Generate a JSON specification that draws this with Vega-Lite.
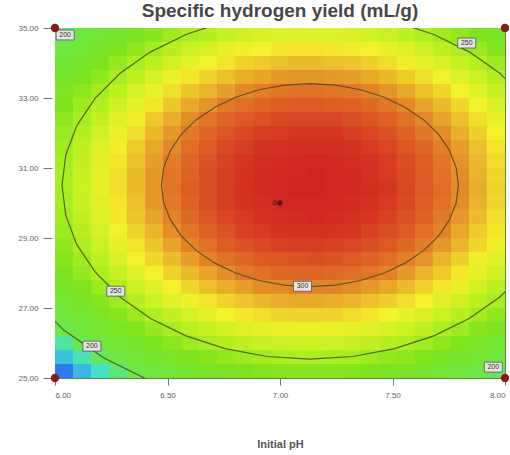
{
  "$schema": "https://vega.github.io/schema/vega-lite/v6.json",
  "width": 450,
  "height": 350,
  "autosize": {"type": "none"},
  "padding": {"left": 55, "top": 28, "right": 5, "bottom": 77},
  "background": "white",
  "title": {"text": "Specific hydrogen yield (mL/g)", "font": "Liberation Sans", "fontSize": 19, "fontWeight": "bold", "color": "#474747", "anchor": "middle", "offset": 3},
  "config": {
    "view": {"stroke": "#5c8a3c", "strokeWidth": 1},
    "axis": {"labelFont": "Liberation Sans", "labelFontSize": 8, "labelColor": "#666666", "tickColor": "#777777", "domain": false, "grid": false, "titleFont": "Liberation Sans", "titleFontSize": 11, "titleColor": "#555555", "titleFontWeight": "bold"}
  },
  "datasets": {
    "grid": [
      {"x":6.04,"y":25.2,"z":166},{"x":6.12,"y":25.2,"z":176},{"x":6.2,"y":25.2,"z":186},{"x":6.28,"y":25.2,"z":195},{"x":6.36,"y":25.2,"z":203},{"x":6.44,"y":25.2,"z":210},{"x":6.52,"y":25.2,"z":216},{"x":6.6,"y":25.2,"z":222},{"x":6.68,"y":25.2,"z":227},{"x":6.76,"y":25.2,"z":231},{"x":6.84,"y":25.2,"z":234},{"x":6.92,"y":25.2,"z":237},{"x":7,"y":25.2,"z":238},{"x":7.08,"y":25.2,"z":239},{"x":7.16,"y":25.2,"z":239},{"x":7.24,"y":25.2,"z":239},{"x":7.32,"y":25.2,"z":237},{"x":7.4,"y":25.2,"z":235},{"x":7.48,"y":25.2,"z":232},{"x":7.56,"y":25.2,"z":228},{"x":7.64,"y":25.2,"z":224},{"x":7.72,"y":25.2,"z":218},{"x":7.8,"y":25.2,"z":212},{"x":7.88,"y":25.2,"z":205},{"x":7.96,"y":25.2,"z":197},
      {"x":6.04,"y":25.6,"z":178},{"x":6.12,"y":25.6,"z":188},{"x":6.2,"y":25.6,"z":198},{"x":6.28,"y":25.6,"z":207},{"x":6.36,"y":25.6,"z":215},{"x":6.44,"y":25.6,"z":222},{"x":6.52,"y":25.6,"z":229},{"x":6.6,"y":25.6,"z":234},{"x":6.68,"y":25.6,"z":239},{"x":6.76,"y":25.6,"z":243},{"x":6.84,"y":25.6,"z":247},{"x":6.92,"y":25.6,"z":249},{"x":7,"y":25.6,"z":251},{"x":7.08,"y":25.6,"z":252},{"x":7.16,"y":25.6,"z":252},{"x":7.24,"y":25.6,"z":251},{"x":7.32,"y":25.6,"z":250},{"x":7.4,"y":25.6,"z":247},{"x":7.48,"y":25.6,"z":244},{"x":7.56,"y":25.6,"z":241},{"x":7.64,"y":25.6,"z":236},{"x":7.72,"y":25.6,"z":231},{"x":7.8,"y":25.6,"z":224},{"x":7.88,"y":25.6,"z":217},{"x":7.96,"y":25.6,"z":210},
      {"x":6.04,"y":26,"z":190},{"x":6.12,"y":26,"z":200},{"x":6.2,"y":26,"z":210},{"x":6.28,"y":26,"z":218},{"x":6.36,"y":26,"z":226},{"x":6.44,"y":26,"z":234},{"x":6.52,"y":26,"z":240},{"x":6.6,"y":26,"z":246},{"x":6.68,"y":26,"z":251},{"x":6.76,"y":26,"z":255},{"x":6.84,"y":26,"z":258},{"x":6.92,"y":26,"z":261},{"x":7,"y":26,"z":262},{"x":7.08,"y":26,"z":263},{"x":7.16,"y":26,"z":263},{"x":7.24,"y":26,"z":263},{"x":7.32,"y":26,"z":261},{"x":7.4,"y":26,"z":259},{"x":7.48,"y":26,"z":256},{"x":7.56,"y":26,"z":252},{"x":7.64,"y":26,"z":247},{"x":7.72,"y":26,"z":242},{"x":7.8,"y":26,"z":236},{"x":7.88,"y":26,"z":229},{"x":7.96,"y":26,"z":221},
      {"x":6.04,"y":26.4,"z":200},{"x":6.12,"y":26.4,"z":210},{"x":6.2,"y":26.4,"z":220},{"x":6.28,"y":26.4,"z":229},{"x":6.36,"y":26.4,"z":237},{"x":6.44,"y":26.4,"z":244},{"x":6.52,"y":26.4,"z":251},{"x":6.6,"y":26.4,"z":256},{"x":6.68,"y":26.4,"z":261},{"x":6.76,"y":26.4,"z":265},{"x":6.84,"y":26.4,"z":268},{"x":6.92,"y":26.4,"z":271},{"x":7,"y":26.4,"z":273},{"x":7.08,"y":26.4,"z":274},{"x":7.16,"y":26.4,"z":274},{"x":7.24,"y":26.4,"z":273},{"x":7.32,"y":26.4,"z":272},{"x":7.4,"y":26.4,"z":269},{"x":7.48,"y":26.4,"z":266},{"x":7.56,"y":26.4,"z":262},{"x":7.64,"y":26.4,"z":258},{"x":7.72,"y":26.4,"z":252},{"x":7.8,"y":26.4,"z":246},{"x":7.88,"y":26.4,"z":239},{"x":7.96,"y":26.4,"z":232},
      {"x":6.04,"y":26.8,"z":209},{"x":6.12,"y":26.8,"z":220},{"x":6.2,"y":26.8,"z":229},{"x":6.28,"y":26.8,"z":238},{"x":6.36,"y":26.8,"z":246},{"x":6.44,"y":26.8,"z":254},{"x":6.52,"y":26.8,"z":260},{"x":6.6,"y":26.8,"z":266},{"x":6.68,"y":26.8,"z":271},{"x":6.76,"y":26.8,"z":275},{"x":6.84,"y":26.8,"z":278},{"x":6.92,"y":26.8,"z":280},{"x":7,"y":26.8,"z":282},{"x":7.08,"y":26.8,"z":283},{"x":7.16,"y":26.8,"z":283},{"x":7.24,"y":26.8,"z":283},{"x":7.32,"y":26.8,"z":281},{"x":7.4,"y":26.8,"z":279},{"x":7.48,"y":26.8,"z":276},{"x":7.56,"y":26.8,"z":272},{"x":7.64,"y":26.8,"z":267},{"x":7.72,"y":26.8,"z":262},{"x":7.8,"y":26.8,"z":256},{"x":7.88,"y":26.8,"z":249},{"x":7.96,"y":26.8,"z":241},
      {"x":6.04,"y":27.2,"z":218},{"x":6.12,"y":27.2,"z":228},{"x":6.2,"y":27.2,"z":238},{"x":6.28,"y":27.2,"z":247},{"x":6.36,"y":27.2,"z":255},{"x":6.44,"y":27.2,"z":262},{"x":6.52,"y":27.2,"z":269},{"x":6.6,"y":27.2,"z":274},{"x":6.68,"y":27.2,"z":279},{"x":6.76,"y":27.2,"z":283},{"x":6.84,"y":27.2,"z":286},{"x":6.92,"y":27.2,"z":289},{"x":7,"y":27.2,"z":291},{"x":7.08,"y":27.2,"z":292},{"x":7.16,"y":27.2,"z":292},{"x":7.24,"y":27.2,"z":291},{"x":7.32,"y":27.2,"z":290},{"x":7.4,"y":27.2,"z":287},{"x":7.48,"y":27.2,"z":284},{"x":7.56,"y":27.2,"z":280},{"x":7.64,"y":27.2,"z":276},{"x":7.72,"y":27.2,"z":270},{"x":7.8,"y":27.2,"z":264},{"x":7.88,"y":27.2,"z":257},{"x":7.96,"y":27.2,"z":250},
      {"x":6.04,"y":27.6,"z":226},{"x":6.12,"y":27.6,"z":236},{"x":6.2,"y":27.6,"z":246},{"x":6.28,"y":27.6,"z":254},{"x":6.36,"y":27.6,"z":262},{"x":6.44,"y":27.6,"z":270},{"x":6.52,"y":27.6,"z":276},{"x":6.6,"y":27.6,"z":282},{"x":6.68,"y":27.6,"z":287},{"x":6.76,"y":27.6,"z":291},{"x":6.84,"y":27.6,"z":294},{"x":6.92,"y":27.6,"z":297},{"x":7,"y":27.6,"z":298},{"x":7.08,"y":27.6,"z":299},{"x":7.16,"y":27.6,"z":299},{"x":7.24,"y":27.6,"z":299},{"x":7.32,"y":27.6,"z":297},{"x":7.4,"y":27.6,"z":295},{"x":7.48,"y":27.6,"z":292},{"x":7.56,"y":27.6,"z":288},{"x":7.64,"y":27.6,"z":283},{"x":7.72,"y":27.6,"z":278},{"x":7.8,"y":27.6,"z":272},{"x":7.88,"y":27.6,"z":265},{"x":7.96,"y":27.6,"z":257},
      {"x":6.04,"y":28,"z":232},{"x":6.12,"y":28,"z":243},{"x":6.2,"y":28,"z":252},{"x":6.28,"y":28,"z":261},{"x":6.36,"y":28,"z":269},{"x":6.44,"y":28,"z":276},{"x":6.52,"y":28,"z":283},{"x":6.6,"y":28,"z":288},{"x":6.68,"y":28,"z":293},{"x":6.76,"y":28,"z":297},{"x":6.84,"y":28,"z":301},{"x":6.92,"y":28,"z":303},{"x":7,"y":28,"z":305},{"x":7.08,"y":28,"z":306},{"x":7.16,"y":28,"z":306},{"x":7.24,"y":28,"z":305},{"x":7.32,"y":28,"z":304},{"x":7.4,"y":28,"z":302},{"x":7.48,"y":28,"z":299},{"x":7.56,"y":28,"z":295},{"x":7.64,"y":28,"z":290},{"x":7.72,"y":28,"z":285},{"x":7.8,"y":28,"z":278},{"x":7.88,"y":28,"z":271},{"x":7.96,"y":28,"z":264},
      {"x":6.04,"y":28.4,"z":238},{"x":6.12,"y":28.4,"z":248},{"x":6.2,"y":28.4,"z":258},{"x":6.28,"y":28.4,"z":267},{"x":6.36,"y":28.4,"z":275},{"x":6.44,"y":28.4,"z":282},{"x":6.52,"y":28.4,"z":288},{"x":6.6,"y":28.4,"z":294},{"x":6.68,"y":28.4,"z":299},{"x":6.76,"y":28.4,"z":303},{"x":6.84,"y":28.4,"z":306},{"x":6.92,"y":28.4,"z":309},{"x":7,"y":28.4,"z":310},{"x":7.08,"y":28.4,"z":311},{"x":7.16,"y":28.4,"z":312},{"x":7.24,"y":28.4,"z":311},{"x":7.32,"y":28.4,"z":309},{"x":7.4,"y":28.4,"z":307},{"x":7.48,"y":28.4,"z":304},{"x":7.56,"y":28.4,"z":300},{"x":7.64,"y":28.4,"z":296},{"x":7.72,"y":28.4,"z":290},{"x":7.8,"y":28.4,"z":284},{"x":7.88,"y":28.4,"z":277},{"x":7.96,"y":28.4,"z":269},
      {"x":6.04,"y":28.8,"z":242},{"x":6.12,"y":28.8,"z":253},{"x":6.2,"y":28.8,"z":262},{"x":6.28,"y":28.8,"z":271},{"x":6.36,"y":28.8,"z":279},{"x":6.44,"y":28.8,"z":286},{"x":6.52,"y":28.8,"z":293},{"x":6.6,"y":28.8,"z":299},{"x":6.68,"y":28.8,"z":303},{"x":6.76,"y":28.8,"z":308},{"x":6.84,"y":28.8,"z":311},{"x":6.92,"y":28.8,"z":313},{"x":7,"y":28.8,"z":315},{"x":7.08,"y":28.8,"z":316},{"x":7.16,"y":28.8,"z":316},{"x":7.24,"y":28.8,"z":315},{"x":7.32,"y":28.8,"z":314},{"x":7.4,"y":28.8,"z":312},{"x":7.48,"y":28.8,"z":309},{"x":7.56,"y":28.8,"z":305},{"x":7.64,"y":28.8,"z":300},{"x":7.72,"y":28.8,"z":295},{"x":7.8,"y":28.8,"z":289},{"x":7.88,"y":28.8,"z":282},{"x":7.96,"y":28.8,"z":274},
      {"x":6.04,"y":29.2,"z":246},{"x":6.12,"y":29.2,"z":256},{"x":6.2,"y":29.2,"z":266},{"x":6.28,"y":29.2,"z":275},{"x":6.36,"y":29.2,"z":283},{"x":6.44,"y":29.2,"z":290},{"x":6.52,"y":29.2,"z":297},{"x":6.6,"y":29.2,"z":302},{"x":6.68,"y":29.2,"z":307},{"x":6.76,"y":29.2,"z":311},{"x":6.84,"y":29.2,"z":315},{"x":6.92,"y":29.2,"z":317},{"x":7,"y":29.2,"z":319},{"x":7.08,"y":29.2,"z":320},{"x":7.16,"y":29.2,"z":320},{"x":7.24,"y":29.2,"z":319},{"x":7.32,"y":29.2,"z":318},{"x":7.4,"y":29.2,"z":315},{"x":7.48,"y":29.2,"z":312},{"x":7.56,"y":29.2,"z":309},{"x":7.64,"y":29.2,"z":304},{"x":7.72,"y":29.2,"z":299},{"x":7.8,"y":29.2,"z":292},{"x":7.88,"y":29.2,"z":285},{"x":7.96,"y":29.2,"z":278},
      {"x":6.04,"y":29.6,"z":249},{"x":6.12,"y":29.6,"z":259},{"x":6.2,"y":29.6,"z":269},{"x":6.28,"y":29.6,"z":278},{"x":6.36,"y":29.6,"z":286},{"x":6.44,"y":29.6,"z":293},{"x":6.52,"y":29.6,"z":299},{"x":6.6,"y":29.6,"z":305},{"x":6.68,"y":29.6,"z":310},{"x":6.76,"y":29.6,"z":314},{"x":6.84,"y":29.6,"z":317},{"x":6.92,"y":29.6,"z":320},{"x":7,"y":29.6,"z":321},{"x":7.08,"y":29.6,"z":322},{"x":7.16,"y":29.6,"z":323},{"x":7.24,"y":29.6,"z":322},{"x":7.32,"y":29.6,"z":320},{"x":7.4,"y":29.6,"z":318},{"x":7.48,"y":29.6,"z":315},{"x":7.56,"y":29.6,"z":311},{"x":7.64,"y":29.6,"z":307},{"x":7.72,"y":29.6,"z":301},{"x":7.8,"y":29.6,"z":295},{"x":7.88,"y":29.6,"z":288},{"x":7.96,"y":29.6,"z":280},
      {"x":6.04,"y":30,"z":250},{"x":6.12,"y":30,"z":261},{"x":6.2,"y":30,"z":270},{"x":6.28,"y":30,"z":279},{"x":6.36,"y":30,"z":287},{"x":6.44,"y":30,"z":295},{"x":6.52,"y":30,"z":301},{"x":6.6,"y":30,"z":307},{"x":6.68,"y":30,"z":312},{"x":6.76,"y":30,"z":316},{"x":6.84,"y":30,"z":319},{"x":6.92,"y":30,"z":321},{"x":7,"y":30,"z":323},{"x":7.08,"y":30,"z":324},{"x":7.16,"y":30,"z":324},{"x":7.24,"y":30,"z":324},{"x":7.32,"y":30,"z":322},{"x":7.4,"y":30,"z":320},{"x":7.48,"y":30,"z":317},{"x":7.56,"y":30,"z":313},{"x":7.64,"y":30,"z":308},{"x":7.72,"y":30,"z":303},{"x":7.8,"y":30,"z":297},{"x":7.88,"y":30,"z":290},{"x":7.96,"y":30,"z":282},
      {"x":6.04,"y":30.4,"z":251},{"x":6.12,"y":30.4,"z":262},{"x":6.2,"y":30.4,"z":271},{"x":6.28,"y":30.4,"z":280},{"x":6.36,"y":30.4,"z":288},{"x":6.44,"y":30.4,"z":295},{"x":6.52,"y":30.4,"z":302},{"x":6.6,"y":30.4,"z":308},{"x":6.68,"y":30.4,"z":312},{"x":6.76,"y":30.4,"z":316},{"x":6.84,"y":30.4,"z":320},{"x":6.92,"y":30.4,"z":322},{"x":7,"y":30.4,"z":324},{"x":7.08,"y":30.4,"z":325},{"x":7.16,"y":30.4,"z":325},{"x":7.24,"y":30.4,"z":324},{"x":7.32,"y":30.4,"z":323},{"x":7.4,"y":30.4,"z":321},{"x":7.48,"y":30.4,"z":318},{"x":7.56,"y":30.4,"z":314},{"x":7.64,"y":30.4,"z":309},{"x":7.72,"y":30.4,"z":304},{"x":7.8,"y":30.4,"z":298},{"x":7.88,"y":30.4,"z":291},{"x":7.96,"y":30.4,"z":283},
      {"x":6.04,"y":30.8,"z":251},{"x":6.12,"y":30.8,"z":261},{"x":6.2,"y":30.8,"z":271},{"x":6.28,"y":30.8,"z":280},{"x":6.36,"y":30.8,"z":288},{"x":6.44,"y":30.8,"z":295},{"x":6.52,"y":30.8,"z":302},{"x":6.6,"y":30.8,"z":307},{"x":6.68,"y":30.8,"z":312},{"x":6.76,"y":30.8,"z":316},{"x":6.84,"y":30.8,"z":319},{"x":6.92,"y":30.8,"z":322},{"x":7,"y":30.8,"z":324},{"x":7.08,"y":30.8,"z":324},{"x":7.16,"y":30.8,"z":325},{"x":7.24,"y":30.8,"z":324},{"x":7.32,"y":30.8,"z":323},{"x":7.4,"y":30.8,"z":320},{"x":7.48,"y":30.8,"z":317},{"x":7.56,"y":30.8,"z":313},{"x":7.64,"y":30.8,"z":309},{"x":7.72,"y":30.8,"z":303},{"x":7.8,"y":30.8,"z":297},{"x":7.88,"y":30.8,"z":290},{"x":7.96,"y":30.8,"z":282},
      {"x":6.04,"y":31.2,"z":250},{"x":6.12,"y":31.2,"z":260},{"x":6.2,"y":31.2,"z":270},{"x":6.28,"y":31.2,"z":279},{"x":6.36,"y":31.2,"z":287},{"x":6.44,"y":31.2,"z":294},{"x":6.52,"y":31.2,"z":300},{"x":6.6,"y":31.2,"z":306},{"x":6.68,"y":31.2,"z":311},{"x":6.76,"y":31.2,"z":315},{"x":6.84,"y":31.2,"z":318},{"x":6.92,"y":31.2,"z":321},{"x":7,"y":31.2,"z":322},{"x":7.08,"y":31.2,"z":323},{"x":7.16,"y":31.2,"z":324},{"x":7.24,"y":31.2,"z":323},{"x":7.32,"y":31.2,"z":321},{"x":7.4,"y":31.2,"z":319},{"x":7.48,"y":31.2,"z":316},{"x":7.56,"y":31.2,"z":312},{"x":7.64,"y":31.2,"z":308},{"x":7.72,"y":31.2,"z":302},{"x":7.8,"y":31.2,"z":296},{"x":7.88,"y":31.2,"z":289},{"x":7.96,"y":31.2,"z":281},
      {"x":6.04,"y":31.6,"z":248},{"x":6.12,"y":31.6,"z":258},{"x":6.2,"y":31.6,"z":268},{"x":6.28,"y":31.6,"z":277},{"x":6.36,"y":31.6,"z":285},{"x":6.44,"y":31.6,"z":292},{"x":6.52,"y":31.6,"z":298},{"x":6.6,"y":31.6,"z":304},{"x":6.68,"y":31.6,"z":309},{"x":6.76,"y":31.6,"z":313},{"x":6.84,"y":31.6,"z":316},{"x":6.92,"y":31.6,"z":319},{"x":7,"y":31.6,"z":320},{"x":7.08,"y":31.6,"z":321},{"x":7.16,"y":31.6,"z":321},{"x":7.24,"y":31.6,"z":321},{"x":7.32,"y":31.6,"z":319},{"x":7.4,"y":31.6,"z":317},{"x":7.48,"y":31.6,"z":314},{"x":7.56,"y":31.6,"z":310},{"x":7.64,"y":31.6,"z":306},{"x":7.72,"y":31.6,"z":300},{"x":7.8,"y":31.6,"z":294},{"x":7.88,"y":31.6,"z":287},{"x":7.96,"y":31.6,"z":279},
      {"x":6.04,"y":32,"z":245},{"x":6.12,"y":32,"z":255},{"x":6.2,"y":32,"z":265},{"x":6.28,"y":32,"z":273},{"x":6.36,"y":32,"z":281},{"x":6.44,"y":32,"z":289},{"x":6.52,"y":32,"z":295},{"x":6.6,"y":32,"z":301},{"x":6.68,"y":32,"z":306},{"x":6.76,"y":32,"z":310},{"x":6.84,"y":32,"z":313},{"x":6.92,"y":32,"z":316},{"x":7,"y":32,"z":317},{"x":7.08,"y":32,"z":318},{"x":7.16,"y":32,"z":318},{"x":7.24,"y":32,"z":318},{"x":7.32,"y":32,"z":316},{"x":7.4,"y":32,"z":314},{"x":7.48,"y":32,"z":311},{"x":7.56,"y":32,"z":307},{"x":7.64,"y":32,"z":302},{"x":7.72,"y":32,"z":297},{"x":7.8,"y":32,"z":291},{"x":7.88,"y":32,"z":284},{"x":7.96,"y":32,"z":276},
      {"x":6.04,"y":32.4,"z":240},{"x":6.12,"y":32.4,"z":251},{"x":6.2,"y":32.4,"z":260},{"x":6.28,"y":32.4,"z":269},{"x":6.36,"y":32.4,"z":277},{"x":6.44,"y":32.4,"z":285},{"x":6.52,"y":32.4,"z":291},{"x":6.6,"y":32.4,"z":297},{"x":6.68,"y":32.4,"z":302},{"x":6.76,"y":32.4,"z":306},{"x":6.84,"y":32.4,"z":309},{"x":6.92,"y":32.4,"z":311},{"x":7,"y":32.4,"z":313},{"x":7.08,"y":32.4,"z":314},{"x":7.16,"y":32.4,"z":314},{"x":7.24,"y":32.4,"z":314},{"x":7.32,"y":32.4,"z":312},{"x":7.4,"y":32.4,"z":310},{"x":7.48,"y":32.4,"z":307},{"x":7.56,"y":32.4,"z":303},{"x":7.64,"y":32.4,"z":298},{"x":7.72,"y":32.4,"z":293},{"x":7.8,"y":32.4,"z":287},{"x":7.88,"y":32.4,"z":280},{"x":7.96,"y":32.4,"z":272},
      {"x":6.04,"y":32.8,"z":235},{"x":6.12,"y":32.8,"z":246},{"x":6.2,"y":32.8,"z":255},{"x":6.28,"y":32.8,"z":264},{"x":6.36,"y":32.8,"z":272},{"x":6.44,"y":32.8,"z":279},{"x":6.52,"y":32.8,"z":286},{"x":6.6,"y":32.8,"z":292},{"x":6.68,"y":32.8,"z":296},{"x":6.76,"y":32.8,"z":301},{"x":6.84,"y":32.8,"z":304},{"x":6.92,"y":32.8,"z":306},{"x":7,"y":32.8,"z":308},{"x":7.08,"y":32.8,"z":309},{"x":7.16,"y":32.8,"z":309},{"x":7.24,"y":32.8,"z":308},{"x":7.32,"y":32.8,"z":307},{"x":7.4,"y":32.8,"z":305},{"x":7.48,"y":32.8,"z":302},{"x":7.56,"y":32.8,"z":298},{"x":7.64,"y":32.8,"z":293},{"x":7.72,"y":32.8,"z":288},{"x":7.8,"y":32.8,"z":282},{"x":7.88,"y":32.8,"z":275},{"x":7.96,"y":32.8,"z":267},
      {"x":6.04,"y":33.2,"z":229},{"x":6.12,"y":33.2,"z":240},{"x":6.2,"y":33.2,"z":249},{"x":6.28,"y":33.2,"z":258},{"x":6.36,"y":33.2,"z":266},{"x":6.44,"y":33.2,"z":273},{"x":6.52,"y":33.2,"z":280},{"x":6.6,"y":33.2,"z":286},{"x":6.68,"y":33.2,"z":290},{"x":6.76,"y":33.2,"z":294},{"x":6.84,"y":33.2,"z":298},{"x":6.92,"y":33.2,"z":300},{"x":7,"y":33.2,"z":302},{"x":7.08,"y":33.2,"z":303},{"x":7.16,"y":33.2,"z":303},{"x":7.24,"y":33.2,"z":302},{"x":7.32,"y":33.2,"z":301},{"x":7.4,"y":33.2,"z":299},{"x":7.48,"y":33.2,"z":296},{"x":7.56,"y":33.2,"z":292},{"x":7.64,"y":33.2,"z":287},{"x":7.72,"y":33.2,"z":282},{"x":7.8,"y":33.2,"z":276},{"x":7.88,"y":33.2,"z":269},{"x":7.96,"y":33.2,"z":261},
      {"x":6.04,"y":33.6,"z":222},{"x":6.12,"y":33.6,"z":233},{"x":6.2,"y":33.6,"z":242},{"x":6.28,"y":33.6,"z":251},{"x":6.36,"y":33.6,"z":259},{"x":6.44,"y":33.6,"z":266},{"x":6.52,"y":33.6,"z":273},{"x":6.6,"y":33.6,"z":279},{"x":6.68,"y":33.6,"z":283},{"x":6.76,"y":33.6,"z":287},{"x":6.84,"y":33.6,"z":291},{"x":6.92,"y":33.6,"z":293},{"x":7,"y":33.6,"z":295},{"x":7.08,"y":33.6,"z":296},{"x":7.16,"y":33.6,"z":296},{"x":7.24,"y":33.6,"z":295},{"x":7.32,"y":33.6,"z":294},{"x":7.4,"y":33.6,"z":292},{"x":7.48,"y":33.6,"z":289},{"x":7.56,"y":33.6,"z":285},{"x":7.64,"y":33.6,"z":280},{"x":7.72,"y":33.6,"z":275},{"x":7.8,"y":33.6,"z":269},{"x":7.88,"y":33.6,"z":262},{"x":7.96,"y":33.6,"z":254},
      {"x":6.04,"y":34,"z":214},{"x":6.12,"y":34,"z":225},{"x":6.2,"y":34,"z":234},{"x":6.28,"y":34,"z":243},{"x":6.36,"y":34,"z":251},{"x":6.44,"y":34,"z":258},{"x":6.52,"y":34,"z":265},{"x":6.6,"y":34,"z":271},{"x":6.68,"y":34,"z":275},{"x":6.76,"y":34,"z":279},{"x":6.84,"y":34,"z":283},{"x":6.92,"y":34,"z":285},{"x":7,"y":34,"z":287},{"x":7.08,"y":34,"z":288},{"x":7.16,"y":34,"z":288},{"x":7.24,"y":34,"z":287},{"x":7.32,"y":34,"z":286},{"x":7.4,"y":34,"z":284},{"x":7.48,"y":34,"z":281},{"x":7.56,"y":34,"z":277},{"x":7.64,"y":34,"z":272},{"x":7.72,"y":34,"z":267},{"x":7.8,"y":34,"z":261},{"x":7.88,"y":34,"z":254},{"x":7.96,"y":34,"z":246},
      {"x":6.04,"y":34.4,"z":205},{"x":6.12,"y":34.4,"z":216},{"x":6.2,"y":34.4,"z":225},{"x":6.28,"y":34.4,"z":234},{"x":6.36,"y":34.4,"z":242},{"x":6.44,"y":34.4,"z":249},{"x":6.52,"y":34.4,"z":256},{"x":6.6,"y":34.4,"z":262},{"x":6.68,"y":34.4,"z":266},{"x":6.76,"y":34.4,"z":271},{"x":6.84,"y":34.4,"z":274},{"x":6.92,"y":34.4,"z":276},{"x":7,"y":34.4,"z":278},{"x":7.08,"y":34.4,"z":279},{"x":7.16,"y":34.4,"z":279},{"x":7.24,"y":34.4,"z":278},{"x":7.32,"y":34.4,"z":277},{"x":7.4,"y":34.4,"z":275},{"x":7.48,"y":34.4,"z":272},{"x":7.56,"y":34.4,"z":268},{"x":7.64,"y":34.4,"z":263},{"x":7.72,"y":34.4,"z":258},{"x":7.8,"y":34.4,"z":252},{"x":7.88,"y":34.4,"z":245},{"x":7.96,"y":34.4,"z":237},
      {"x":6.04,"y":34.8,"z":195},{"x":6.12,"y":34.8,"z":206},{"x":6.2,"y":34.8,"z":215},{"x":6.28,"y":34.8,"z":224},{"x":6.36,"y":34.8,"z":232},{"x":6.44,"y":34.8,"z":239},{"x":6.52,"y":34.8,"z":246},{"x":6.6,"y":34.8,"z":252},{"x":6.68,"y":34.8,"z":256},{"x":6.76,"y":34.8,"z":261},{"x":6.84,"y":34.8,"z":264},{"x":6.92,"y":34.8,"z":266},{"x":7,"y":34.8,"z":268},{"x":7.08,"y":34.8,"z":269},{"x":7.16,"y":34.8,"z":269},{"x":7.24,"y":34.8,"z":268},{"x":7.32,"y":34.8,"z":267},{"x":7.4,"y":34.8,"z":265},{"x":7.48,"y":34.8,"z":262},{"x":7.56,"y":34.8,"z":258},{"x":7.64,"y":34.8,"z":253},{"x":7.72,"y":34.8,"z":248},{"x":7.8,"y":34.8,"z":242},{"x":7.88,"y":34.8,"z":235},{"x":7.96,"y":34.8,"z":227}
    ],
    "contours": [
      {"lev":"300","k":0,"x":7.793,"y":30.51},{"lev":"300","k":1,"x":7.783,"y":31.013},{"lev":"300","k":2,"x":7.753,"y":31.502},{"lev":"300","k":3,"x":7.705,"y":31.96},{"lev":"300","k":4,"x":7.639,"y":32.374},{"lev":"300","k":5,"x":7.557,"y":32.731},{"lev":"300","k":6,"x":7.463,"y":33.021},{"lev":"300","k":7,"x":7.359,"y":33.235},{"lev":"300","k":8,"x":7.248,"y":33.366},{"lev":"300","k":9,"x":7.133,"y":33.41},{"lev":"300","k":10,"x":7.018,"y":33.366},{"lev":"300","k":11,"x":6.907,"y":33.235},{"lev":"300","k":12,"x":6.803,"y":33.021},{"lev":"300","k":13,"x":6.709,"y":32.731},{"lev":"300","k":14,"x":6.627,"y":32.374},{"lev":"300","k":15,"x":6.561,"y":31.96},{"lev":"300","k":16,"x":6.513,"y":31.502},{"lev":"300","k":17,"x":6.483,"y":31.013},{"lev":"300","k":18,"x":6.473,"y":30.51},{"lev":"300","k":19,"x":6.483,"y":30.007},{"lev":"300","k":20,"x":6.513,"y":29.518},{"lev":"300","k":21,"x":6.561,"y":29.06},{"lev":"300","k":22,"x":6.627,"y":28.646},{"lev":"300","k":23,"x":6.709,"y":28.289},{"lev":"300","k":24,"x":6.803,"y":27.999},{"lev":"300","k":25,"x":6.907,"y":27.785},{"lev":"300","k":26,"x":7.018,"y":27.654},{"lev":"300","k":27,"x":7.133,"y":27.61},{"lev":"300","k":28,"x":7.248,"y":27.654},{"lev":"300","k":29,"x":7.359,"y":27.785},{"lev":"300","k":30,"x":7.463,"y":27.999},{"lev":"300","k":31,"x":7.557,"y":28.289},{"lev":"300","k":32,"x":7.639,"y":28.646},{"lev":"300","k":33,"x":7.705,"y":29.06},{"lev":"300","k":34,"x":7.753,"y":29.518},{"lev":"300","k":35,"x":7.783,"y":30.007},{"lev":"300","k":36,"x":7.793,"y":30.51},
      {"lev":"250","k":0,"x":8.235,"y":30.51},{"lev":"250","k":1,"x":8.218,"y":31.373},{"lev":"250","k":2,"x":8.169,"y":32.21},{"lev":"250","k":3,"x":8.087,"y":32.996},{"lev":"250","k":4,"x":7.977,"y":33.705},{"lev":"250","k":5,"x":7.841,"y":34.318},{"lev":"250","k":6,"x":7.684,"y":34.815},{"lev":"250","k":7,"x":7.51,"y":35.181},{"lev":"250","k":8,"x":7.324,"y":35.405},{"lev":"250","k":9,"x":7.133,"y":35.481},{"lev":"250","k":10,"x":6.942,"y":35.405},{"lev":"250","k":11,"x":6.756,"y":35.181},{"lev":"250","k":12,"x":6.582,"y":34.815},{"lev":"250","k":13,"x":6.425,"y":34.318},{"lev":"250","k":14,"x":6.289,"y":33.705},{"lev":"250","k":15,"x":6.179,"y":32.996},{"lev":"250","k":16,"x":6.097,"y":32.21},{"lev":"250","k":17,"x":6.048,"y":31.373},{"lev":"250","k":18,"x":6.031,"y":30.51},{"lev":"250","k":19,"x":6.048,"y":29.647},{"lev":"250","k":20,"x":6.097,"y":28.81},{"lev":"250","k":21,"x":6.179,"y":28.024},{"lev":"250","k":22,"x":6.289,"y":27.315},{"lev":"250","k":23,"x":6.425,"y":26.702},{"lev":"250","k":24,"x":6.582,"y":26.205},{"lev":"250","k":25,"x":6.756,"y":25.839},{"lev":"250","k":26,"x":6.942,"y":25.615},{"lev":"250","k":27,"x":7.133,"y":25.539},{"lev":"250","k":28,"x":7.324,"y":25.615},{"lev":"250","k":29,"x":7.51,"y":25.839},{"lev":"250","k":30,"x":7.684,"y":26.205},{"lev":"250","k":31,"x":7.841,"y":26.702},{"lev":"250","k":32,"x":7.977,"y":27.315},{"lev":"250","k":33,"x":8.087,"y":28.024},{"lev":"250","k":34,"x":8.169,"y":28.81},{"lev":"250","k":35,"x":8.218,"y":29.647},{"lev":"250","k":36,"x":8.235,"y":30.51},
      {"lev":"200","k":17,"x":5.727,"y":31.628},{"lev":"200","k":18,"x":5.705,"y":30.51},{"lev":"200","k":19,"x":5.727,"y":29.392},{"lev":"200","k":20,"x":5.791,"y":28.308},{"lev":"200","k":21,"x":5.896,"y":27.29},{"lev":"200","k":22,"x":6.039,"y":26.37},{"lev":"200","k":23,"x":6.215,"y":25.577},{"lev":"200","k":24,"x":6.419,"y":24.933},{"lev":"200","k":25,"x":6.645,"y":24.458},{"lev":"200","k":26,"x":6.885,"y":24.168}
    ],
    "labels": [
      {"x":7.1,"y":27.62,"t":"300"},
      {"x":6.27,"y":27.48,"t":"250"},
      {"x":7.83,"y":34.57,"t":"250"},
      {"x":6.164,"y":25.91,"t":"200"},
      {"x":6.045,"y":34.8,"t":"200"},
      {"x":7.948,"y":25.31,"t":"200"}
    ],
    "design": [
      {"x":6,"y":25},{"x":8,"y":25},{"x":6,"y":35},{"x":8,"y":35}
    ],
    "center": [
      {"x":7,"y":30,"t":"6"}
    ]
  },
  "layer": [
    {
      "data": {"name": "grid"},
      "mark": {"type": "rect"},
      "encoding": {
        "x": {"field": "x", "type": "ordinal", "scale": {"paddingInner": 0, "paddingOuter": 0}, "axis": null},
        "y": {"field": "y", "type": "ordinal", "sort": "descending", "scale": {"paddingInner": 0, "paddingOuter": 0}, "axis": null},
        "color": {
          "field": "z", "type": "quantitative", "legend": null,
          "scale": {
            "domain": [160, 172, 186, 200, 235, 255, 276, 290, 300, 310, 318, 325],
            "range": ["#2a4ee8", "#34a6f2", "#44e2c4", "#6ae84a", "#7ee41e", "#b4f020", "#f4f22a", "#eab42c", "#e27e28", "#dc5624", "#d43622", "#d02420"],
            "interpolate": "rgb"
          }
        }
      }
    },
    {
      "encoding": {
        "x": {"field": "x", "type": "quantitative", "scale": {"domain": [6, 8], "nice": false, "zero": false},
              "axis": {"orient": "bottom", "values": [6, 6.5, 7, 7.5, 8], "format": ".2f", "title": "Initial pH", "tickSize": 7, "labelPadding": 6, "titlePadding": 39}},
        "y": {"field": "y", "type": "quantitative", "scale": {"domain": [25, 35], "nice": false, "zero": false},
              "axis": {"orient": "left", "values": [25, 27, 29, 31, 33, 35], "format": ".2f", "title": null, "tickSize": 9, "offset": 3, "labelPadding": 5}}
      },
      "layer": [
        {
          "data": {"name": "contours"},
          "mark": {"type": "line", "clip": true, "color": "#4a4a22", "strokeWidth": 1.2, "opacity": 0.85},
          "encoding": {"detail": {"field": "lev"}, "order": {"field": "k", "type": "quantitative"}}
        },
        {
          "data": {"name": "labels"},
          "mark": {"type": "point", "shape": "M-1,-0.55L1,-0.55L1,0.55L-1,0.55Z", "size": 324, "filled": true, "fill": "#e4e4e4", "stroke": "#555555", "strokeWidth": 0.8, "opacity": 1}
        },
        {
          "data": {"name": "labels"},
          "mark": {"type": "text", "font": "Liberation Sans", "fontSize": 7, "color": "#333333"},
          "encoding": {"text": {"field": "t"}}
        },
        {
          "data": {"name": "design"},
          "mark": {"type": "point", "filled": true, "size": 70, "color": "#8b1a1a", "opacity": 1}
        },
        {
          "data": {"name": "center"},
          "mark": {"type": "point", "filled": true, "size": 28, "color": "#5a1414", "opacity": 1}
        },
        {
          "data": {"name": "center"},
          "mark": {"type": "text", "font": "Liberation Sans", "fontSize": 8, "color": "#4a1212", "align": "right", "dx": -3},
          "encoding": {"text": {"field": "t"}}
        }
      ]
    }
  ],
  "resolve": {"scale": {"x": "independent", "y": "independent"}}
}
